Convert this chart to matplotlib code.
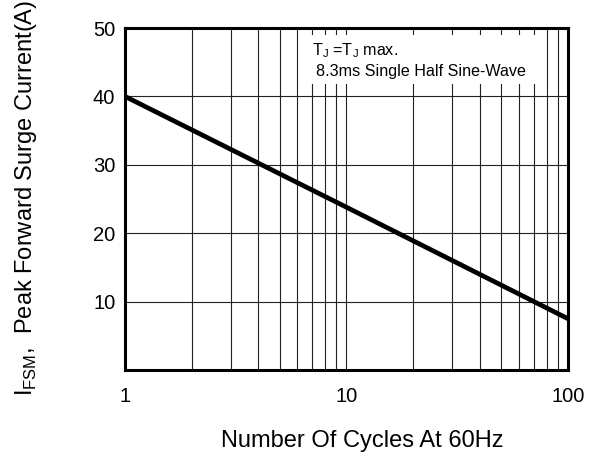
import matplotlib.pyplot as plt
from matplotlib.patches import Rectangle

plt.rcParams['font.family'] = ['Liberation Sans', 'DejaVu Sans']
plt.rcParams['mathtext.fontset'] = 'custom'
plt.rcParams['mathtext.rm'] = 'Liberation Sans'

# === Data ===
cycles = [1, 10, 100]
surge_current = [40, 23.8, 7.5]

x_ticks = [1, 10, 100]
x_tick_labels = ["1", "10", "100"]
y_ticks = [10, 20, 30, 40, 50]

# === Plotting ===
fig = plt.figure(figsize=(5.95, 4.58), dpi=100)
ax = fig.add_axes([0.2101, 0.1921, 0.7445, 0.7467])

ax.plot(cycles, surge_current, color='black', linewidth=3.4, solid_capstyle='butt', zorder=3)

ax.set_xscale('log')
ax.set_xlim(1, 100)
ax.set_ylim(0, 50)
ax.set_xticks(x_ticks)
ax.set_xticklabels(x_tick_labels)
ax.set_yticks(y_ticks)

ax.grid(True, which='both', axis='x', color='#222222', linewidth=0.8)
ax.grid(True, which='major', axis='y', color='#222222', linewidth=0.8)
ax.tick_params(which='both', length=0)
ax.tick_params(axis='x', labelsize=14.5, pad=12)
ax.tick_params(axis='y', labelsize=14.5, pad=7)

for s in ax.spines.values():
    s.set_linewidth(2.2)

# white box behind the note
ax.add_patch(Rectangle((0.395, 0.836), 0.542, 0.144, transform=ax.transAxes,
                       facecolor='white', edgecolor='none', zorder=2))
ax.text(0.422, 0.921, r"T$_\mathregular{J}$ =T$_\mathregular{J}$ max.", transform=ax.transAxes,
        fontsize=11.6, va='baseline', zorder=4)
ax.text(0.431, 0.860, "8.3ms Single Half Sine-Wave", transform=ax.transAxes,
        fontsize=11.6, va='baseline', zorder=4)

fig.text(0.608, 0.024, "Number Of Cycles At 60Hz", fontsize=17, ha='center', va='baseline')
fig.text(0.044, 0.567, r"I$_\mathregular{FSM}$,  Peak Forward Surge Current(A)", rotation=90,
         fontsize=17, ha='center', va='center')

fig.savefig("out.png", dpi=100)
